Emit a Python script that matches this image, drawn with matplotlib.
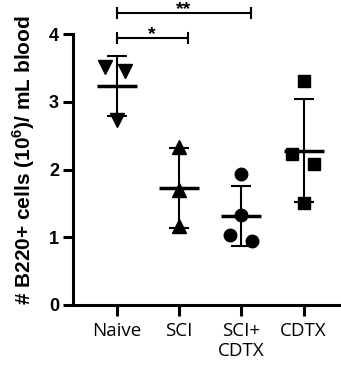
import numpy as np
import matplotlib.pyplot as plt

plt.rcParams['mathtext.fontset'] = 'custom'
plt.rcParams['mathtext.rm'] = 'Liberation Sans'
plt.rcParams['mathtext.bf'] = 'Liberation Sans:bold'

# Dados (10^6 células/mL)
groups = ['Naive', 'SCI', 'SCI+\nCDTX', 'CDTX']
naive = [3.52, 3.45, 2.73]
sci = [2.34, 1.70, 1.16]
sci_cdtx = [1.94, 1.33, 1.04, 0.95]
cdtx = [3.31, 2.23, 2.08, 1.50]
series = [naive, sci, sci_cdtx, cdtx]
markers = ['v', '^', 'o', 's']
# deslocamento horizontal dos pontos (dispersão)
jitter = [[-0.19, 0.14, 0.0], [0, 0, 0], [0, 0, -0.18, 0.18], [0, -0.18, 0.16, 0]]

fig = plt.figure(figsize=(3.41, 3.71), dpi=100)
ax = fig.add_axes([0.214, 0.178, 0.786, 0.73])

for i, (vals, m, dx) in enumerate(zip(series, markers, jitter)):
    vals = np.array(vals)
    ax.plot(i + np.array(dx), vals, m, color='black', ms=10 if m in 'v^' else 9,
            clip_on=False, zorder=3)
    mean, sd = vals.mean(), vals.std(ddof=1)
    ax.hlines(mean, i - 0.32, i + 0.32, color='black', lw=2.5, zorder=4)
    ax.errorbar(i, mean, yerr=sd, fmt='none', ecolor='black', elinewidth=1.5,
                capsize=7, capthick=1.5, zorder=4)

# Barras de significância
def bracket(x1, x2, y, txt):
    ax.plot([x1, x2], [y, y], color='black', lw=1.5, clip_on=False)
    for xx in (x1, x2):
        ax.plot([xx, xx], [y - 0.07, y + 0.07], color='black', lw=1.5, clip_on=False)
    ax.text((x1 + x2) / 2, y - 0.02, txt, ha='center', va='baseline',
            fontsize=14, fontweight='bold', family='Liberation Sans', clip_on=False)

bracket(0, 1.14, 3.94, '*')
bracket(0, 2.16, 4.31, '**')

ax.set_xlim(-0.7, 3.6)
ax.set_ylim(0, 4)
ax.set_yticks([0, 1, 2, 3, 4])
ax.set_xticks(range(4))
ax.set_xticklabels(groups, family='Open Sans', fontsize=13.5)
for lab in ax.get_yticklabels():
    lab.set_fontweight('bold')
    lab.set_family('Liberation Sans')
    lab.set_fontsize(13)

ax.spines['top'].set_visible(False)
ax.spines['right'].set_visible(False)
ax.spines['left'].set_linewidth(2.2)
ax.spines['bottom'].set_linewidth(2.2)
ax.tick_params(axis='y', width=2.2, length=7, pad=3)
ax.tick_params(axis='x', width=2.2, length=8, pad=4)

ax.set_ylabel(r'# B220+ cells (10$^{\mathbf{6}}$)/ mL blood', fontsize=15,
              fontweight='bold', family='Liberation Sans')
ax.yaxis.set_label_coords(-0.135, 0.535)

fig.savefig('out.png', dpi=100)
